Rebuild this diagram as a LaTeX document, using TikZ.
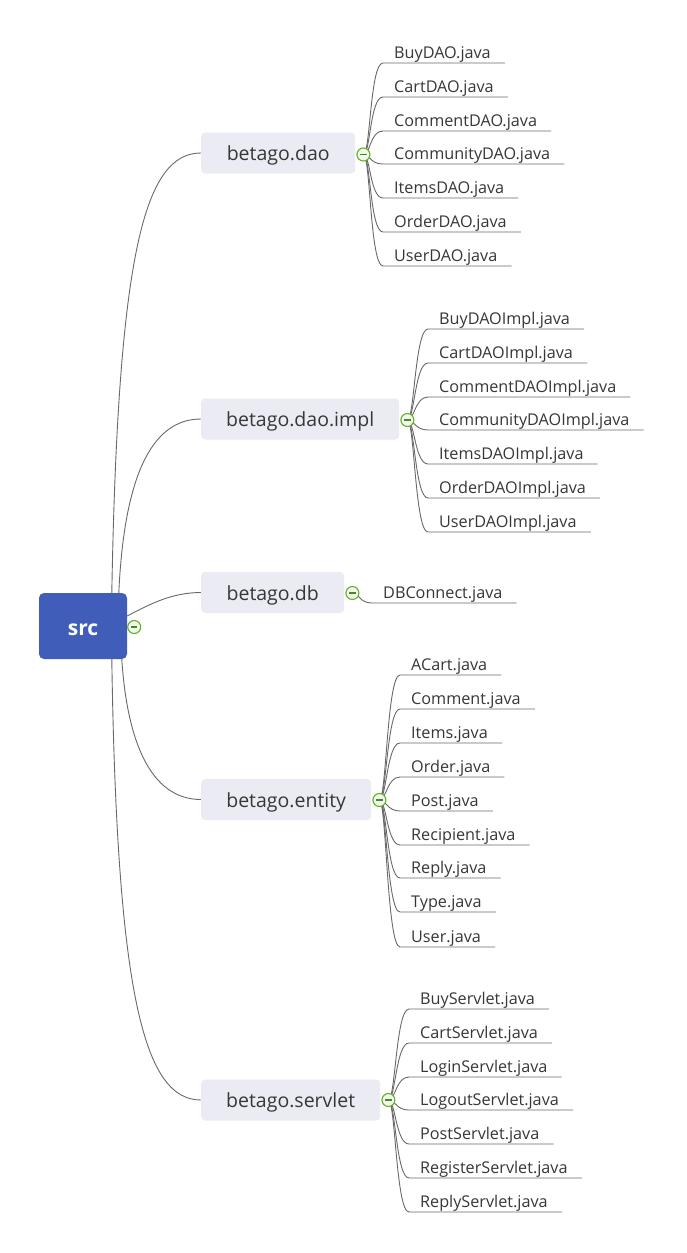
\documentclass[tikz,border=0pt]{standalone}
\usepackage{fontspec}
\setmainfont{Open Sans}
\usetikzlibrary{calc}
\pgfdeclarelayer{bg}
\pgfdeclarelayer{paper}
\pgfsetlayers{paper,bg,main}
\definecolor{rootblue}{RGB}{64,93,186}
\definecolor{branchfill}{RGB}{235,235,243}
\definecolor{linegray}{RGB}{105,105,105}
\definecolor{textgray}{RGB}{55,55,55}
\definecolor{toggreen}{RGB}{98,176,40}
\definecolor{togfill}{RGB}{240,250,232}
\definecolor{togminus}{RGB}{80,130,50}
\tikzset{
  rootbox/.style={rectangle, rounded corners=5pt, fill=rootblue, text=white,
    minimum width=88pt, minimum height=66pt, inner sep=0pt,
    font=\fontsize{21}{24}\selectfont\bfseries, text height=18pt, text depth=0pt},
  branch/.style={rectangle, rounded corners=4pt, fill=branchfill, text=textgray,
    minimum height=41pt, inner sep=0pt, anchor=west,
    font=\fontsize{19.5}{22}\selectfont, text height=15pt, text depth=0pt},
  leaf/.style={anchor=base west, inner sep=0pt, text=textgray,
    font=\fontsize{16.2}{18}\selectfont},
  tog/.style={circle, draw=toggreen, fill=togfill, line width=1.1pt,
    minimum size=13pt, inner sep=0pt,
    path picture={\draw[togminus, line width=1.4pt]
      ($(path picture bounding box.west)+(3.4,0)$) -- ($(path picture bounding box.east)+(-3.4,0)$);}},
  conn/.style={draw=linegray, line width=0.9pt},
}
\begin{document}
\begin{tikzpicture}[x=1pt,y=-1pt]
\begin{pgfonlayer}{paper}
\fill[white] (0,0) rectangle (686,1253);
\end{pgfonlayer}
\useasboundingbox (0,0) rectangle (686,1253);

% root and branches
\node[rootbox] (root) at (83,626) {src};
\node[branch, minimum width=154pt] (bdao) at (201,153) {betago.dao};
\node[branch, minimum width=198pt] (bimpl) at (201,419) {betago.dao.impl};
\node[branch, minimum width=143pt] (bdb) at (201,592.5) {betago.db};
\node[branch, minimum width=170pt] (bent) at (201,799.5) {betago.entity};
\node[branch, minimum width=179pt] (bserv) at (201,1100) {betago.servlet};

% toggles
\node[tog] (troot) at ($(root.east)+(7,1)$) {};
\node[tog] (tdao) at ($(bdao.east)+(8,1.5)$) {};
\node[tog] (timpl) at ($(bimpl.east)+(8,1)$) {};
\node[tog] (tdb) at ($(bdb.east)+(8,0.5)$) {};
\node[tog] (tent) at ($(bent.east)+(8,0.5)$) {};
\node[tog] (tserv) at ($(bserv.east)+(8,0)$) {};

% root connectors
\begin{pgfonlayer}{bg}
\draw[conn] ($(root.north west)+(73,0)$) .. controls (118,250) and (145,153) .. (bdao.west);
\draw[conn] ($(root.north west)+(80,0)$) .. controls (124,480) and (150,419) .. (bimpl.west);
\draw[conn] ($(root.east)+(0,-10)$) .. controls (150,604) and (172,592.5) .. (bdb.west);
\draw[conn] ($(root.south west)+(83,0)$) .. controls (127,740) and (150,799.5) .. (bent.west);
\draw[conn] ($(root.south west)+(73,0)$) .. controls (117,1000) and (145,1100) .. (bserv.west);
\end{pgfonlayer}

% leaves
\newcommand\leafset[4]{%
  \foreach \yu/\t [count=\k] in {#4} {
    \node[leaf] (#2\k) at (#3, \yu-4.5) {\t};
    \begin{pgfonlayer}{bg}
    \draw[conn] (#1.center) .. controls ($(#1.center)+(7,0)$) and ($(#2\k.base west)+(-24,4.5)$)
      .. ($(#2\k.base west)+(-11,4.5)$) -- ($(#2\k.base east)+(14,4.5)$);
    \end{pgfonlayer}
  }%
}
\leafset{tdao}{ldao}{394}{63/BuyDAO.java, 97/CartDAO.java, 131/CommentDAO.java, 164/CommunityDAO.java, 198/ItemsDAO.java, 232/OrderDAO.java, 266/UserDAO.java}
\leafset{timpl}{limpl}{439}{329/BuyDAOImpl.java, 363/CartDAOImpl.java, 397/CommentDAOImpl.java, 430/CommunityDAOImpl.java, 464/ItemsDAOImpl.java, 498/OrderDAOImpl.java, 532/UserDAOImpl.java}
\leafset{tdb}{ldb}{383}{603/DBConnect.java}
\leafset{tent}{lent}{411}{675/ACart.java, 709/Comment.java, 743/Items.java, 777/Order.java, 811/Post.java, 845/Recipient.java, 878/Reply.java, 912/Type.java, 947/User.java}
\leafset{tserv}{lserv}{420}{1009/BuyServlet.java, 1043/CartServlet.java, 1077/LoginServlet.java, 1110/LogoutServlet.java, 1144/PostServlet.java, 1178/RegisterServlet.java, 1212/ReplyServlet.java}
\end{tikzpicture}
\end{document}
